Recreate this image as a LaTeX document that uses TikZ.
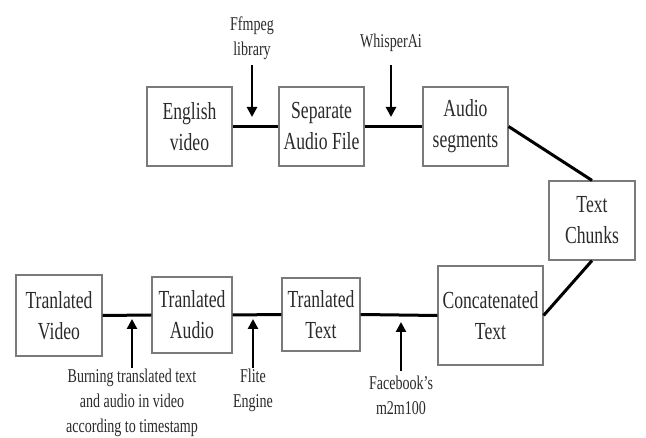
\documentclass[tikz,border=0pt]{standalone}
\usepackage{fontspec}
\setmainfont{Liberation Serif}[FakeStretch=0.72]
\usetikzlibrary{arrows.meta}
\definecolor{boxline}{HTML}{7A7A7A}
\definecolor{txt}{HTML}{2A2A2A}
\begin{document}
\begin{tikzpicture}[x=1pt,y=-1pt,
  box/.style={draw=boxline,line width=1.2pt,inner sep=0pt,align=center,text=txt,
    font=\fontsize{24.5}{31}\selectfont},
  conn/.style={line width=3pt,black},
  tool/.style={line width=2.5pt,black,-{Triangle[length=10pt,width=10pt]}},
  lbl/.style={inner sep=0pt,align=center,text=txt,font=\fontsize{19.5}{25}\selectfont}]
\useasboundingbox (0,0) rectangle (646,438);
% boxes
\node[box,minimum width=85pt,minimum height=79pt] (eng) at (189.5,126.5) {English\\video};
\node[box,minimum width=85pt,minimum height=79pt] (sep) at (321.5,126.5) {Separate\\Audio File};
\node[box,minimum width=85pt,minimum height=79pt] (seg) at (465.5,126.5) {Audio\\segments};
\node[box,minimum width=86pt,minimum height=79pt] (chk) at (592,220.5) {Text\\Chunks};
\node[box,minimum width=105pt,minimum height=99pt] (cat) at (490.5,315.5) {Concatenated\\Text};
\node[box,minimum width=78pt,minimum height=73pt] (ttx) at (321,314.5) {Tranlated\\Text};
\node[box,minimum width=80pt,minimum height=76pt] (tau) at (192,315) {Tranlated\\Audio};
\node[box,minimum width=86pt,minimum height=81pt] (tvi) at (59,315.5) {Tranlated\\Video};
% connectors
\draw[conn] (eng.east) -- (sep.west);
\draw[conn] (sep.east) -- (seg.west);
\draw[conn] (seg.east) -- (chk.north);
\draw[conn] (chk.south) -- (cat.east);
\draw[conn] (cat.west) -- (ttx.east);
\draw[conn] (ttx.west) -- (tau.east);
\draw[conn] (tau.west) -- (tvi.east);
% labels
\node[lbl] (ffm) at (252,38) {Ffmpeg\\library};
\node[lbl] (wsp) at (391,43) {WhisperAi};
\node[lbl] (brn) at (132,403) {Burning translated text\\and audio in video\\according to timestamp};
\node[lbl] (fli) at (253,390) {Flite\\Engine};
\node[lbl] (fbk) at (401,395) {Facebook’s\\m2m100};
% tool arrows
\coordinate (ffmT) at (252,117);
\coordinate (wspT) at (391,117);
\coordinate (brnT) at (132,319);
\coordinate (fliT) at (253,319);
\coordinate (fbkT) at (401,322);
\draw[tool] (252,65) -- (ffmT);
\draw[tool] (391,65) -- (wspT);
\draw[tool] (132,368) -- (brnT);
\draw[tool] (253,368) -- (fliT);
\draw[tool] (401,371) -- (fbkT);
\end{tikzpicture}
\end{document}
